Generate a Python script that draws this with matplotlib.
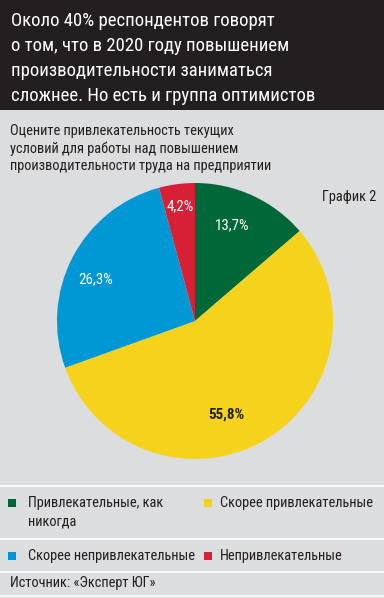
import matplotlib
matplotlib.use("Agg")
import matplotlib.pyplot as plt
from matplotlib.patches import Rectangle

plt.rcParams['font.family'] = ['Roboto Condensed', 'DejaVu Sans']

W, H = 384, 598

title_lines = ["Около 40% респондентов говорят",
               "о том, что в 2020 году повышением",
               "производительности заниматься",
               "сложнее. Но есть и группа оптимистов"]
subtitle_lines = ["Оцените привлекательность текущих",
                  "условий для работы над повышением",
                  "производительности труда на предприятии"]
chart_no = "График 2"
source = "Источник: «Эксперт ЮГ»"

categories = ["Привлекательные, как\nникогда", "Скорее привлекательные",
              "Скорее непривлекательные", "Непривлекательные"]
values = [13.7, 55.8, 26.3, 4.2]
labels = ["13,7%", "55,8%", "26,3%", "4,2%"]
colors = ["#006838", "#f5d31c", "#0098d4", "#d71f35"]
label_colors = ["white", "#231f20", "white", "white"]
label_weights = ["normal", "bold", "normal", "normal"]
# label offsets in pie radius units
label_pos = [(0.27, 0.69), (0.23, -0.68), (-0.72, 0.30), (-0.11, 0.83)]

bg = "#dcddde"
dark = "#231f20"

fig = plt.figure(figsize=(W / 100, H / 100), dpi=100)
fig.patch.set_facecolor(bg)


def fy(y):
    return 1 - y / H


def fx(x):
    return x / W


# dark title box
fig.patches.append(Rectangle((0, fy(110)), 1, 110 / H, transform=fig.transFigure,
                             facecolor=dark, edgecolor="none", zorder=0))
for i, line in enumerate(title_lines):
    fig.text(fx(11), fy(21 + 25 * i), line, color="white", fontsize=13.5,
             va="center", ha="left")

for i, line in enumerate(subtitle_lines):
    fig.text(fx(10), fy(131 + 17.5 * i), line, color=dark, fontsize=10.4,
             va="center", ha="left")

fig.text(fx(376), fy(197), chart_no, color=dark, fontsize=10.4, va="center", ha="right")

# pie
ax = fig.add_axes([(195 - 138) / W, (H - 459) / H, 276 / W, 276 / H])
ax.pie(values, colors=colors, startangle=90, counterclock=False, radius=1,
       wedgeprops=dict(linewidth=0))
for (x, y), lab, c, w in zip(label_pos, labels, label_colors, label_weights):
    ax.text(x, y, lab, color=c, fontsize=10.8, fontweight=w, ha="center", va="center")
ax.set_xlim(-1, 1)
ax.set_ylim(-1, 1)
ax.set_aspect("equal")
ax.axis("off")

# separators
for y in [486, 539, 572, 596]:
    fig.add_artist(plt.Line2D([0, 1], [fy(y), fy(y)], color="white", linewidth=1.2,
                              transform=fig.transFigure))

# legend
leg_sq = [(8, 503), (204, 503), (8, 556), (204, 556)]
leg_txt = [(28, 503), (220, 503), (28, 556), (220, 556)]
for (sx, sy), (tx, ty), cat, c in zip(leg_sq, leg_txt, categories, colors):
    fig.patches.append(Rectangle((fx(sx), fy(sy + 4)), 8 / W, 8 / H,
                                 transform=fig.transFigure, facecolor=c, edgecolor="none"))
    if "\n" in cat:
        for j, part in enumerate(cat.split("\n")):
            fig.text(fx(tx), fy(ty + 18 * j), part, color=dark, fontsize=10.4,
                     va="center", ha="left")
    else:
        fig.text(fx(tx), fy(ty), cat, color=dark, fontsize=10.4, va="center", ha="left")

fig.text(fx(10), fy(583), source, color=dark, fontsize=10.4, va="center", ha="left")

fig.savefig("out.png", dpi=100, facecolor=bg)
